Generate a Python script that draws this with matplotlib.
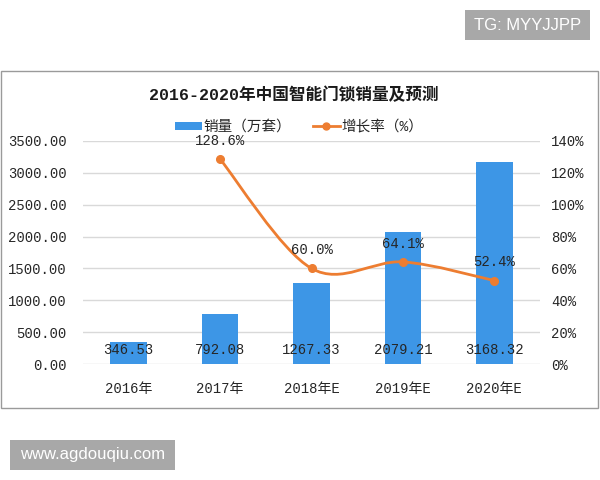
import matplotlib.pyplot as plt
from matplotlib.path import Path
from matplotlib.patches import PathPatch, Rectangle, Patch
from matplotlib.lines import Line2D
from matplotlib.ticker import FuncFormatter

plt.rcParams["font.family"] = ["Liberation Mono", "Noto Sans CJK SC", "DejaVu Sans"]

years = ["2016年", "2017年", "2018年E", "2019年E", "2020年E"]
sales = [346.53, 792.08, 1267.33, 2079.21, 3168.32]
growth_years = [1, 2, 3, 4]
growth = [128.6, 60.0, 64.1, 52.4]

bar_color = "#3D96E6"
line_color = "#ED7D31"
grid_color = "#D9D9D9"
text_color = "#262626"

fig = plt.figure(figsize=(6, 4.8), dpi=100)

# outer frame of the chart
fig.patches.append(Rectangle((1 / 600, 72 / 480), 597 / 600, 337 / 480,
                             transform=fig.transFigure, fill=False,
                             edgecolor="#9A9A9A", linewidth=1.0))

# grey tag boxes
fig.patches.append(Rectangle((465 / 600, 1 - 40 / 480), 125 / 600, 30 / 480,
                             transform=fig.transFigure, facecolor="#A8A8A8",
                             edgecolor="none"))
fig.text(527.5 / 600, 1 - 25 / 480, "TG: MYYJJPP", ha="center", va="center",
         color="white", fontsize=12, family=["Liberation Sans"])
fig.patches.append(Rectangle((10 / 600, 1 - 470 / 480), 165 / 600, 30 / 480,
                             transform=fig.transFigure, facecolor="#A8A8A8",
                             edgecolor="none"))
fig.text(92.5 / 600, 1 - 455 / 480, "www.agdouqiu.com", ha="center", va="center",
         color="white", fontsize=12, family=["Liberation Sans"])

ax = fig.add_axes([83 / 600, 1 - 364 / 480, 457 / 600, 223 / 480])
ax2 = ax.twinx()

x = list(range(len(years)))
ax.bar(x, sales, width=0.4, color=bar_color, zorder=2)
ax.set_xlim(-0.5, 4.5)
ax.set_ylim(0, 3500)
ax.set_yticks(range(0, 3501, 500))
ax.yaxis.set_major_formatter(FuncFormatter(lambda v, p: f"{v:.2f}"))
ax.set_xticks(x)
ax.set_xticklabels(years)
ax.grid(axis="y", color=grid_color, linewidth=1, zorder=0)
ax.set_axisbelow(True)
for s in ax.spines.values():
    s.set_visible(False)
for s in ax2.spines.values():
    s.set_visible(False)
ax.tick_params(axis="both", length=0, labelsize=10, colors=text_color)
ax.tick_params(axis="x", pad=13)
ax.tick_params(axis="y", pad=12)

for xi, v in zip(x, sales):
    ax.annotate(f"{v:.2f}", (xi, 0), xytext=(0, 10), textcoords="offset points",
                ha="center", va="center", fontsize=10, color=text_color)

# smoothed growth line (bezier through the points)
pts = list(zip(growth_years, growth))
verts = [pts[0]]
codes = [Path.MOVETO]
for i in range(len(pts) - 1):
    p0 = pts[i - 1] if i > 0 else pts[i]
    p1 = pts[i]
    p2 = pts[i + 1]
    p3 = pts[i + 2] if i + 2 < len(pts) else pts[i + 1]
    c1 = (p1[0] + (p2[0] - p0[0]) / 6, p1[1] + (p2[1] - p0[1]) / 6)
    c2 = (p2[0] - (p3[0] - p1[0]) / 6, p2[1] - (p3[1] - p1[1]) / 6)
    verts += [c1, c2, p2]
    codes += [Path.CURVE4] * 3
ax2.add_patch(PathPatch(Path(verts, codes), fill=False, edgecolor=line_color,
                        linewidth=2, capstyle="round", zorder=3))
ax2.plot(growth_years, growth, "o", color=line_color, markersize=5.5, zorder=4)
ax2.set_ylim(0, 140)
ax2.set_yticks(range(0, 141, 20))
ax2.yaxis.set_major_formatter(FuncFormatter(lambda v, p: f"{v:.0f}%"))
ax2.tick_params(axis="y", length=0, labelsize=10, colors=text_color, pad=8)

for xi, g in zip(growth_years, growth):
    ax2.annotate(f"{g:.1f}%", (xi, g), xytext=(0, 13), textcoords="offset points",
                 ha="center", va="center", fontsize=10, color=text_color)

fig.text(294 / 600, 1 - 95 / 480, "2016-2020年中国智能门锁销量及预测", ha="center",
         va="center", fontsize=12, fontweight="bold", color="#1A1A1A")

handles = [Patch(facecolor=bar_color),
           Line2D([0], [0], color=line_color, linewidth=2, marker="o", markersize=5)]
fig.legend(handles, ["销量（万套）", "增长率（%）"], loc="center",
           bbox_to_anchor=(299 / 600, 1 - 127 / 480), ncol=2, frameon=False,
           fontsize=10.5, handlelength=1.85, handleheight=0.45, handletextpad=0.1,
           columnspacing=1.5, labelcolor=text_color)

fig.savefig("out.png", dpi=100)
